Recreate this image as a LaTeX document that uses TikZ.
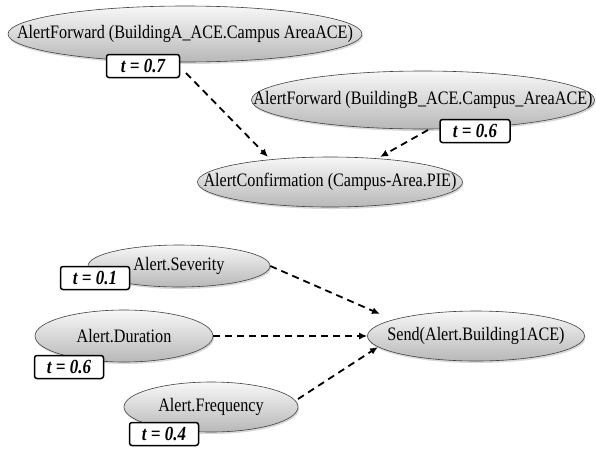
\documentclass[tikz,border=0pt]{standalone}
\usepackage{fontspec}
\setmainfont{Liberation Serif}
\newfontfamily\condserif[FakeStretch=0.85]{Liberation Serif}
\usetikzlibrary{shapes.geometric,arrows.meta,shadows,calc}
\begin{document}
\begin{tikzpicture}[x=1pt,y=-1pt,
  ell/.style={ellipse, draw=black!75, line width=0.6pt, top color=black!3, bottom color=black!28,
    inner sep=0pt, drop shadow={shadow xshift=1pt, shadow yshift=-2pt, opacity=0.3},
    font=\condserif\fontsize{19}{21}\selectfont},
  tbox/.style={draw, line width=1.5pt, rounded corners=2.5pt, fill=white, inner sep=0pt,
    minimum height=23pt, font=\condserif\fontsize{20}{22}\selectfont\bfseries\itshape},
  conn/.style={line width=1.8pt, dash pattern=on 7pt off 5pt, -{Latex[length=8pt,width=7pt]}}]
\useasboundingbox (0,0) rectangle (596,451);
% top group
\node[ell, minimum width=354pt, minimum height=56pt] (afa) at (185,34) {\makebox[0pt]{AlertForward (BuildingA\_ACE.Campus AreaACE)}};
\node[ell, minimum width=343pt, minimum height=58pt] (afb) at (423,100) {\makebox[0pt]{AlertForward (BuildingB\_ACE.Campus\_AreaACE)}};
\node[ell, minimum width=265pt, minimum height=50pt] (conf) at (330,182) {\makebox[0pt]{AlertConfirmation (Campus-Area.PIE)}};
\node[tbox, minimum width=73pt] (ta) at (143,66) {t = 0.7};
\node[tbox, minimum width=70pt] (tb) at (475,131) {t = 0.6};
\draw[conn] ($(afa)+(1,39)$) -- ($(conf)+(-62,-25)$);
\draw[conn] ($(afb)+(5,30)$) -- ($(conf)+(50,-25)$);
% bottom group
\node[ell, minimum width=182pt, minimum height=42pt] (sev) at (179,266) {\makebox[0pt]{Alert.Severity}};
\node[ell, minimum width=178pt, minimum height=52pt] (dur) at (124,336) {\makebox[0pt]{Alert.Duration}};
\node[ell, minimum width=174pt, minimum height=50pt] (freq) at (211,407) {\makebox[0pt]{Alert.Frequency}};
\node[ell, minimum width=217pt, minimum height=50pt] (send) at (476,336) {\makebox[0pt]{Send(Alert.Building1ACE)}};
\node[tbox, minimum width=69pt] (t1) at (95,278) {t = 0.1};
\node[tbox, minimum width=69pt] (t2) at (69,367) {t = 0.6};
\node[tbox, minimum width=69pt] (t3) at (164,434) {t = 0.4};
\draw[conn] (sev.east) -- ($(send)+(-96,-22)$);
\draw[conn] (dur.east) -- (send.west);
\draw[conn] ($(freq)+(87,-8)$) -- ($(send)+(-98,11)$);
\end{tikzpicture}
\end{document}
